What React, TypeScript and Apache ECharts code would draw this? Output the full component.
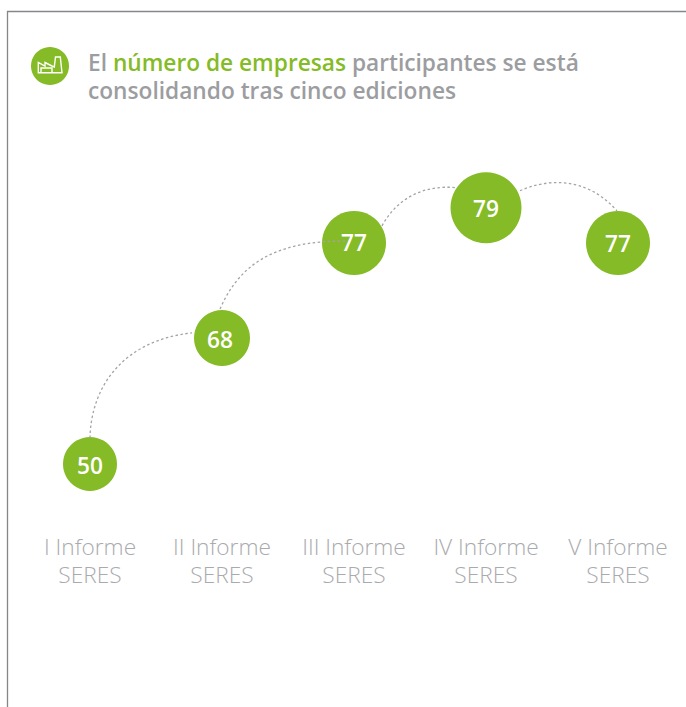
import React, { useEffect, useRef } from "react";
import * as echarts from "echarts";

// Informes (eje X), valores rotulados
const categories = ["I Informe\nSERES", "II Informe\nSERES", "III Informe\nSERES", "IV Informe\nSERES", "V Informe\nSERES"];
const values = [50, 68, 77, 79, 77];
// Altura de cada burbuja en el eje: la infografía original no dibuja los valores a escala
const heights = [50, 65.4, 77, 81.3, 77];
// Diámetro de cada burbuja
const bubbleSizes = [54, 56, 64, 71, 64];
// Pequeño desplazamiento del rótulo dentro de cada burbuja
const labelNudges = [[0, 2], [-2, 2], [0, 0], [0, 1], [0, 1]];

const GREEN = "#84bb26";
const GREY = "#9c9da0";

// Forma de cada arco punteado, en fracciones del vector entre dos burbujas consecutivas
// [inicio x, y, control1 x, y, control2 x, y, fin x, y]
const arcShapes = [
  [0, 0.206, 0.008, 0.627, 0.265, 0.984, 0.773, 1.04],
  [-0.015, 0.305, 0.121, 0.737, 0.364, 1.03, 0.947, 1.02],
  [0.212, 0.486, 0.333, 1.31, 0.538, 1.66, 0.78, 1.57],
  [0.258, -0.486, 0.447, -0.8, 0.75, -0.943, 0.992, 0.086],
];

const FACTORY =
  "M38.3 72.7V62.5L45 66V62.5L52 66L54.3 67L55.5 57H60.3L62 72.7ZM41 72.7V68H52V72.7";
echarts.graphic.registerShape("factory", echarts.graphic.extendPath(FACTORY, {}) as any);

export default function App() {
  const ref = useRef<HTMLDivElement>(null);
  useEffect(() => {
    document.body.style.margin = "0";
    const chart = echarts.init(ref.current!, undefined, { renderer: "svg" });
    chart.setOption({
      animation: false,
      backgroundColor: "#ffffff",
      textStyle: { fontFamily: "'Open Sans', sans-serif" },
      title: {
        left: 83,
        top: 43,
        text:
          "{g|El }{h|número de empresas}{g| participantes se está}\n{g|consolidando tras cinco ediciones}",
        textStyle: {
          rich: {
            g: { fontFamily: "'Open Sans', sans-serif", fontSize: 22.7, fontWeight: 600, color: GREY, lineHeight: 28 },
            h: { fontFamily: "'Open Sans', sans-serif", fontSize: 22.7, fontWeight: 600, color: GREEN, lineHeight: 28 },
          },
        },
      },
      grid: { left: 24, right: 2, top: 177.5, bottom: 202.1 },
      xAxis: {
        type: "category",
        data: categories,
        axisLine: { show: false },
        axisTick: { show: false },
        splitLine: { show: false },
        axisLabel: {
          interval: 0,
          margin: 28,
          fontFamily: "'Open Sans', sans-serif",
          fontSize: 22.7,
          fontWeight: 300,
          lineHeight: 28,
          color: "#a9aaad",
        },
      },
      yAxis: { type: "value", min: 45, max: 85, show: false },
      series: [
        {
          type: "scatter",
          z: 2,
          data: heights.map((h, i) => ({
            value: [i, h],
            symbolSize: bubbleSizes[i],
            label: { formatter: String(values[i]), offset: labelNudges[i] },
          })),
          itemStyle: { color: GREEN, opacity: 1 },
          label: {
            show: true,
            position: "inside",
            fontFamily: "'Open Sans', sans-serif",
            fontSize: 22.7,
            fontWeight: 600,
            color: "#ffffff",
          },
        },
        {
          type: "custom",
          z: 3,
          silent: true,
          data: arcShapes.map((_, i) => [i, heights[i], i + 1, heights[i + 1]]),
          encode: { x: [0, 2], y: [1, 3] },
          renderItem: (params: any, api: any) => {
            const a = api.coord([api.value(0), api.value(1)]);
            const b = api.coord([api.value(2), api.value(3)]);
            const s = arcShapes[params.dataIndex];
            const dx = b[0] - a[0];
            const dy = b[1] - a[1];
            const px = (f: number) => a[0] + f * dx;
            const py = (f: number) => a[1] + f * dy;
            return {
              type: "bezierCurve",
              shape: {
                x1: px(s[0]), y1: py(s[1]),
                cpx1: px(s[2]), cpy1: py(s[3]),
                cpx2: px(s[4]), cpy2: py(s[5]),
                x2: px(s[6]), y2: py(s[7]),
              },
              style: { fill: "none", stroke: "#a3a4a7", lineWidth: 1.3, lineDash: [2.5, 2.5] },
            };
          },
        },
      ],
      graphic: [
        {
          type: "polyline",
          silent: true,
          shape: { points: [[7.5, 707], [7.5, 11.5], [686, 11.5]] },
          style: { fill: "none", stroke: "#85868a", lineWidth: 1.3 },
        },
        { type: "circle", silent: true, shape: { cx: 50, cy: 66, r: 19 }, style: { fill: GREEN } },
        {
          type: "factory",
          silent: true,
          x: 0,
          y: 0,
          style: { fill: "none", stroke: "#ffffff", lineWidth: 1.4 },
        },
      ],
    });
    return () => chart.dispose();
  }, []);
  return <div ref={ref} style={{ width: 686, height: 707 }} />;
}
